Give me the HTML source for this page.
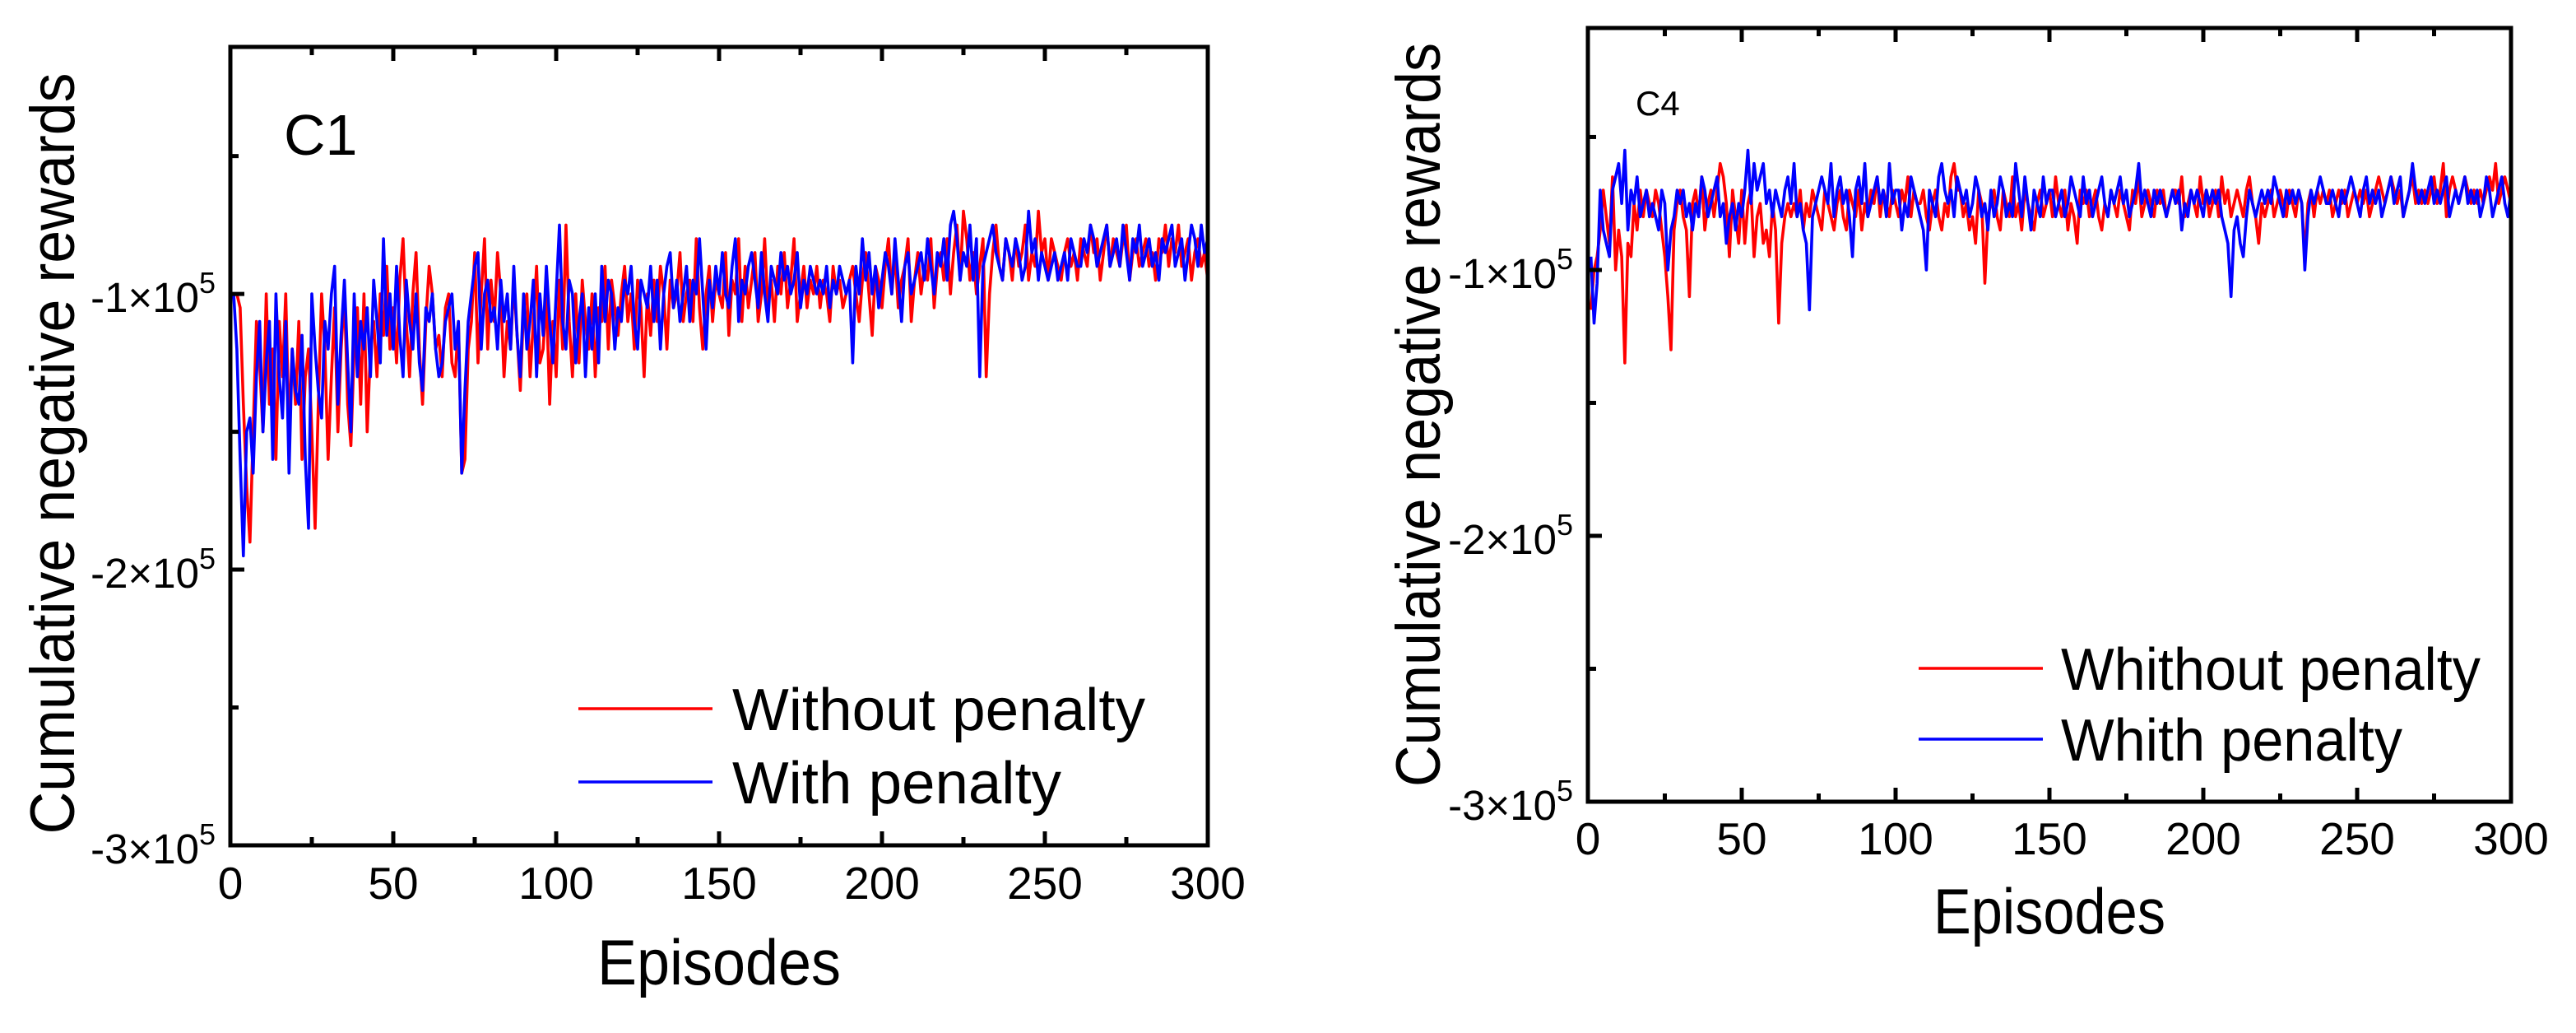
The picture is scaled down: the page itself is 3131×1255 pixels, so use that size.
<!DOCTYPE html>
<html><head><meta charset="utf-8"><style>
html,body{margin:0;padding:0;background:#fff;}
svg{display:block;font-family:"Liberation Sans",Arial,sans-serif;}
</style></head><body>
<svg id="fig" width="3131" height="1255" viewBox="0 0 3131 1255" xmlns="http://www.w3.org/2000/svg">
<rect width="3131" height="1255" fill="#fff"/>
<g id="p1"></g>
<g id="p2"></g>
</svg>
<script>
// values in thousands (magnitude of negative reward)
const episodes = Array.from({length:300},(_,i)=>i+1);
const c1Without = [100,100,105,140,170,190,150,110,125,150,100,140,120,160,110,130,100,150,120,140,110,160,130,120,150,185,140,100,120,160,130,105,150,120,100,140,155,120,105,140,100,150,120,110,130,100,115,90,120,105,125,95,80,110,130,100,85,120,140,110,90,100,120,115,130,105,100,125,130,110,165,160,120,110,85,125,100,80,120,95,110,85,100,130,110,120,95,115,135,105,100,130,110,90,125,120,100,140,110,130,95,120,75,110,130,100,125,95,110,120,100,130,105,110,90,120,95,105,115,100,90,110,100,120,95,105,130,100,115,95,110,90,100,120,95,105,100,85,110,100,95,110,80,105,120,100,90,110,95,100,105,85,115,95,100,80,110,90,105,95,85,110,100,80,105,95,110,90,100,85,105,95,80,110,100,90,105,95,100,90,105,95,100,110,90,100,95,105,100,95,90,100,110,95,85,100,115,90,95,105,90,80,100,85,105,95,90,80,110,95,85,100,90,95,80,105,90,85,95,80,100,85,75,95,70,80,95,85,100,90,80,130,100,85,75,90,95,80,85,95,80,90,85,75,95,85,90,70,85,80,95,80,85,90,95,85,80,90,85,95,80,85,90,75,85,80,95,85,75,90,80,85,90,80,75,95,85,80,90,85,80,90,85,95,80,85,75,90,80,85,75,90,85,80,95,85,80,90,85,95];
const c1With = [100,120,160,195,150,145,165,130,110,150,125,110,160,100,130,145,110,165,120,135,140,115,160,185,100,120,135,145,110,120,100,90,140,115,95,125,150,100,130,110,120,105,130,95,110,125,80,115,100,120,90,115,130,95,110,120,100,125,135,105,110,100,120,130,125,110,105,100,120,110,165,135,110,100,90,85,120,100,95,110,105,120,95,110,100,120,90,115,130,100,120,110,95,130,100,115,90,110,125,100,75,110,120,95,100,125,110,100,130,105,120,100,125,90,110,95,100,120,105,110,95,100,90,110,120,95,100,105,90,110,95,120,100,90,85,105,95,110,100,90,110,95,100,80,100,120,95,105,90,100,85,100,105,90,80,110,95,100,90,85,95,105,85,100,110,90,95,100,85,95,90,100,95,85,105,95,100,90,95,100,95,100,90,105,95,100,90,95,100,95,125,90,100,80,95,85,100,90,105,95,85,90,100,80,95,110,90,85,100,95,90,85,95,80,90,100,85,90,80,95,75,70,80,95,85,90,75,95,80,130,90,85,80,75,85,90,95,80,85,90,80,85,95,90,70,85,80,95,85,90,95,90,85,95,90,85,95,80,85,90,90,80,85,75,80,90,85,80,75,90,85,80,90,75,85,95,80,85,75,90,85,80,90,85,95,80,85,80,75,90,85,80,95,85,75,80,90,75,85,80];
const c4Without = [115,100,95,85,70,80,90,65,100,85,95,135,90,95,75,85,70,80,70,75,80,70,75,85,95,110,130,85,75,70,80,85,110,75,70,80,65,85,75,70,80,70,60,65,75,95,70,80,90,70,90,75,70,95,80,75,90,85,95,75,85,120,90,80,75,80,75,80,70,85,75,80,70,75,80,85,70,75,80,85,75,70,80,85,70,75,80,70,85,75,80,70,75,65,80,70,75,80,70,75,80,70,75,65,80,70,75,75,70,80,85,75,70,80,85,75,80,65,60,70,70,80,75,85,80,90,70,75,105,80,75,70,80,85,70,75,80,65,80,75,85,70,75,80,85,75,70,80,75,70,80,65,75,80,70,85,75,80,90,70,75,70,80,75,70,80,85,75,80,70,75,80,70,75,80,85,70,75,65,80,75,70,75,80,70,75,70,80,75,70,70,75,65,80,75,70,75,80,65,75,70,80,75,70,80,65,75,70,80,75,70,75,80,70,65,75,80,90,75,80,75,70,80,75,70,75,80,70,75,80,70,75,95,75,70,80,70,75,70,75,70,80,75,70,75,70,80,75,70,75,70,75,70,80,75,70,65,70,75,70,65,70,75,70,80,75,70,65,75,70,75,70,75,70,65,75,70,60,80,70,65,70,75,70,65,70,75,70,75,70,75,70,65,70,60,75,70,65,70,75];
const c4With = [95,120,105,70,85,90,95,70,65,60,75,55,85,70,75,65,80,75,70,80,75,80,85,70,75,100,85,80,70,75,70,80,75,85,75,80,65,70,80,75,70,65,80,75,90,80,75,85,75,80,70,55,75,60,70,65,60,75,70,80,70,75,80,70,65,75,60,80,75,85,90,115,80,75,70,65,70,75,60,80,70,65,75,70,80,95,70,65,75,60,80,75,70,65,75,70,80,60,75,70,70,85,75,80,65,70,75,80,85,100,70,75,80,65,60,70,75,70,80,65,70,75,70,80,75,65,70,80,75,85,70,80,75,65,70,80,75,80,60,70,80,65,75,85,70,75,80,65,75,70,70,80,75,70,80,75,65,70,75,80,65,75,70,80,75,70,65,75,80,70,75,70,65,75,70,80,75,70,60,75,70,75,80,70,75,70,75,80,75,70,75,70,85,75,80,70,75,70,75,80,70,75,70,75,70,80,85,90,110,85,80,90,95,80,70,75,80,75,70,75,70,75,65,70,75,80,70,75,70,75,70,75,100,80,70,75,70,65,70,75,75,70,75,80,70,75,70,65,70,75,80,70,65,75,70,75,70,80,75,70,65,75,70,65,80,75,70,60,70,75,70,75,70,65,75,70,75,70,65,80,75,70,75,70,65,75,70,75,70,80,75,65,70,80,75,70,65,75,80,70];
const xTicks = [0,50,100,150,200,250,300];
const yTicks = [-100000,-200000,-300000];
const yTickLabels = ["-1","-2","-3"];

const NS="http://www.w3.org/2000/svg";
function mk(parent,tag,attrs){const e=document.createElementNS(NS,tag);for(const k in attrs)e.setAttribute(k,attrs[k]);parent.appendChild(e);return e;}

function drawPanel(g,cfg){
  const {L,R,T,B,yMax}=cfg;
  const xs=v=>L+(v/300)*(R-L);
  const ys=v=>B+(v-(-300000))/(yMax-(-300000))*(T-B);
  cfg.series.forEach(s=>{
    const pts=episodes.map((ep,i)=>xs(ep).toFixed(1)+","+ys(-s.vals[i]*1000).toFixed(1)).join(" ");
    const pl=mk(g,"polyline",{points:pts,fill:"none",stroke:s.color,"stroke-width":3.6,"stroke-linejoin":"round"});
    
    
  });
  for(let v=0;v<=300;v+=25){
    const len=v%50===0?17:10;
    const t1=mk(g,"line",{x1:xs(v),x2:xs(v),y1:B,y2:B-len,stroke:"#000","stroke-width":5});
    
    
    const t2=mk(g,"line",{x1:xs(v),x2:xs(v),y1:T,y2:T+len,stroke:"#000","stroke-width":5});
    
    
  }
  for(let v=-300000;v<=yMax;v+=50000){
    const len=v%100000===0?17:10;
    const t=mk(g,"line",{x1:L,x2:L+len,y1:ys(v),y2:ys(v),stroke:"#000","stroke-width":5});
    
    
  }
  const fr=mk(g,"rect",{x:L,y:T,width:R-L,height:B-T,fill:"none",stroke:"#000","stroke-width":5});
  
  
  xTicks.forEach(v=>{
    const t=mk(g,"text",{x:xs(v),y:cfg.xLabY,"font-size":55,"text-anchor":"middle"});
    t.textContent=String(v);
    
    
  });
  yTicks.forEach((v,i)=>{
    const t=mk(g,"text",{x:cfg.yLabX,y:ys(v)+22,"font-size":51,"text-anchor":"end"});
    
    
    t.appendChild(document.createTextNode(yTickLabels[i]+"×10"));
    const sp=document.createElementNS(NS,"tspan");
    sp.setAttribute("dy","-23");sp.setAttribute("font-size","36");
    sp.textContent="5";t.appendChild(sp);
  });
  const yl=mk(g,"text",{x:0,y:0,"font-size":76,"text-anchor":"middle",transform:`translate(${cfg.yTitleX},${cfg.yTitleY}) rotate(-90)`,textLength:cfg.yTitleLen,lengthAdjust:"spacingAndGlyphs"});
  yl.textContent="Cumulative negative rewards";
  
  
  const xl=mk(g,"text",{x:xs(150),y:cfg.xTitleY,"font-size":78,"text-anchor":"middle",textLength:cfg.xTitleLen,lengthAdjust:"spacingAndGlyphs"});
  xl.textContent="Episodes";
  
  
  const pt=mk(g,"text",{x:cfg.panel.x,y:cfg.panel.y,"font-size":cfg.panel.size});
  pt.textContent=cfg.panel.text;
  
  
  cfg.legend.forEach(l=>{
    const ln=mk(g,"line",{x1:l.x1,x2:l.x2,y1:l.y,y2:l.y,stroke:l.color,"stroke-width":3.6});
    
    
    const tx=mk(g,"text",{x:l.tx,y:l.y+26,"font-size":72,textLength:l.len,lengthAdjust:"spacingAndGlyphs"});
    tx.textContent=l.text;
    
    
  });
}

drawPanel(document.getElementById("p1"),{L:280,R:1468,T:57,B:1027,yMax:-10400,
  series:[{vals:c1Without,color:"#ff0000",name:"series-without-penalty"},{vals:c1With,color:"#0000ff",name:"series-with-penalty"}],
  xLabY:1092,yLabX:262,yTitleX:90,yTitleY:551,yTitleLen:925,xTitleY:1196,xTitleLen:296,
  panel:{x:345,y:188,size:70,text:"C1"},
  legend:[{x1:703,x2:866,y:861,tx:890,color:"#ff0000",text:"Without penalty",len:502},{x1:703,x2:866,y:950,tx:890,color:"#0000ff",text:"With penalty",len:400}]});
drawPanel(document.getElementById("p2"),{L:1930,R:3052,T:34,B:974,yMax:-9000,
  series:[{vals:c4Without,color:"#ff0000",name:"series-whithout-penalty"},{vals:c4With,color:"#0000ff",name:"series-whith-penalty"}],
  xLabY:1038,yLabX:1912,yTitleX:1750,yTitleY:504,yTitleLen:904,xTitleY:1134,xTitleLen:282,
  panel:{x:1988,y:140,size:42,text:"C4"},
  legend:[{x1:2332,x2:2483,y:812,tx:2505,color:"#ff0000",text:"Whithout penalty",len:510},{x1:2332,x2:2483,y:898,tx:2505,color:"#0000ff",text:"Whith penalty",len:415}]});
</script>
</body></html>
